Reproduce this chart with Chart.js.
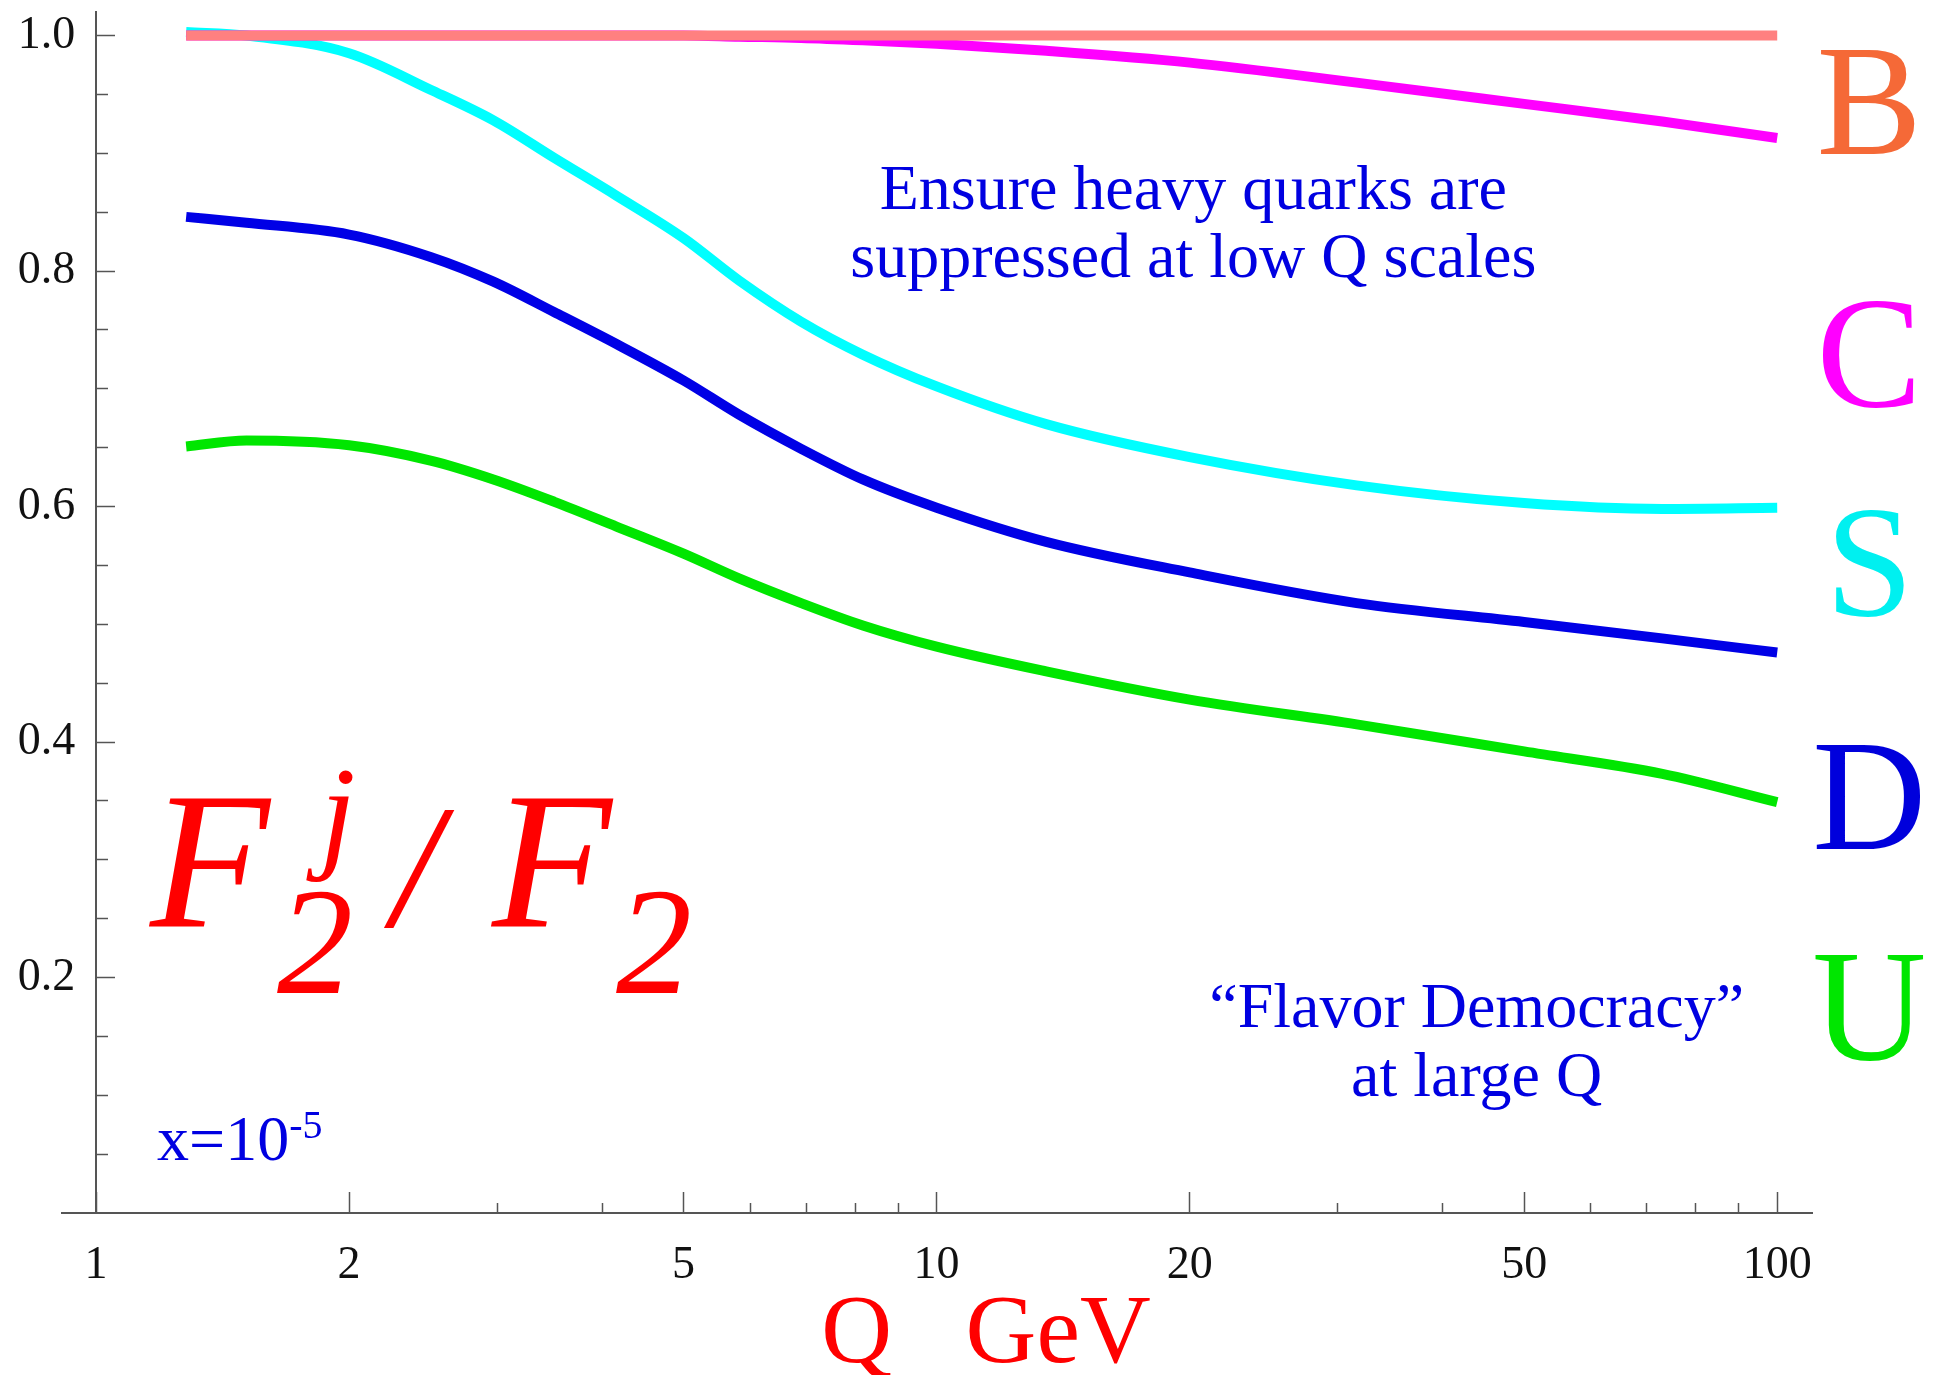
<!DOCTYPE html>
<html>
<head>
<meta charset="utf-8">
<script src="https://cdn.jsdelivr.net/npm/chart.js@4.4.1/dist/chart.umd.min.js"></script>
<style>
  html, body { margin: 0; padding: 0; background: #ffffff; }
  #wrap { width: 1935px; height: 1375px; position: relative; }
</style>
</head>
<body>
<div id="wrap"><canvas id="chart"></canvas></div>
<script>
// ---- data ----
const qValues = [1.28, 1.51, 2.0, 2.5, 2.97, 3.51, 4.16, 5.0, 5.82, 6.9, 8.17, 10, 13.5, 20, 31.6, 50, 73, 100];
const ratioB  = [1, 1, 1, 1, 1, 1, 1, 1, 1, 1, 1, 1, 1, 1, 1, 1, 1, 1];
const ratioC  = [1, 1, 1, 1, 1, 1, 1, 1, 0.999, 0.998, 0.996, 0.993, 0.987, 0.977, 0.960, 0.942, 0.927, 0.913];
const ratioS  = [1.003, 1.0, 0.985, 0.954, 0.928, 0.896, 0.864, 0.828, 0.792, 0.757, 0.729, 0.702, 0.670, 0.642, 0.618, 0.603, 0.598, 0.599];
const ratioD  = [0.846, 0.841, 0.831, 0.812, 0.791, 0.765, 0.738, 0.707, 0.678, 0.649, 0.623, 0.599, 0.570, 0.544, 0.518, 0.502, 0.488, 0.476];
const ratioU  = [0.651, 0.656, 0.652, 0.639, 0.623, 0.604, 0.583, 0.560, 0.539, 0.518, 0.499, 0.481, 0.460, 0.436, 0.415, 0.392, 0.373, 0.349];
const seriesNames = ['B', 'C', 'S', 'D', 'U'];

const xMajorTicks = [1, 2, 5, 10, 20, 50, 100];
const xMinorTicks = [3, 4, 6, 7, 8, 9, 30, 40, 60, 70, 80, 90];
const yMajorTicks = [0.2, 0.4, 0.6, 0.8, 1.0];
const yMinorTicks = [0.05, 0.1, 0.15, 0.25, 0.3, 0.35, 0.45, 0.5, 0.55, 0.65, 0.7, 0.75, 0.85, 0.9, 0.95];

const xTitle = '    Q   GeV';
const noteTop = ['Ensure heavy quarks are', 'suppressed at low Q scales'];
const noteBottom = ['\u201CFlavor Democracy\u201D', 'at large Q'];
const xNote = ['x=10', '-5'];

// ---- styles ----
const seriesColors = ['rgb(255,128,128)', 'rgb(255,0,255)', 'rgb(0,255,255)', 'rgb(0,0,230)', 'rgb(0,230,0)'];
const letterColors = ['rgb(245,105,55)', 'rgb(255,0,255)', 'rgb(0,240,240)', 'rgb(0,0,220)', 'rgb(0,230,0)'];
const axisColor = '#555555';
const serif = "'Liberation Serif', 'Times New Roman', serif";
const X_MIN = 0.911, X_MAX = 110, Y_MIN = 0, Y_MAX = 1.02;
const Y_AXIS_AT = 1;   // the y axis crosses the x axis at Q = 1

Chart.defaults.font.family = serif;

const seriesValues = [ratioB, ratioC, ratioS, ratioD, ratioU];
const datasets = seriesValues.map((vals, i) => ({
  label: seriesNames[i],
  data: qValues.map((q, k) => ({ x: q, y: vals[k] })),
  borderColor: seriesColors[i],
  backgroundColor: seriesColors[i],
  borderWidth: 10,
  pointRadius: 0,
  fill: false,
  cubicInterpolationMode: 'monotone',
  borderCapStyle: 'butt'
}));

// annotations in data coordinates (Q, ratio)
const annotationPlugin = {
  id: 'annotations',
  afterDatasetsDraw(chart) {
    const ctx = chart.ctx;
    const xs = chart.scales.x, ys = chart.scales.y;
    const px = q => xs.getPixelForValue(q);
    const py = v => ys.getPixelForValue(v);
    const text = (t, x, y, font, color, align) => {
      ctx.save();
      ctx.font = font;
      ctx.fillStyle = color;
      ctx.textAlign = align || 'left';
      ctx.textBaseline = 'alphabetic';
      ctx.fillText(t, x, y);
      ctx.restore();
    };
    const blue = 'rgb(0,0,225)';
    const red = 'rgb(255,0,0)';
    // upper note
    text(noteTop[0], px(20.2), py(0.853), '64px ' + serif, blue, 'center');
    text(noteTop[1], px(20.2), py(0.795), '64px ' + serif, blue, 'center');
    // lower note
    text(noteBottom[0], px(43.9), py(0.158), '64px ' + serif, blue, 'center');
    text(noteBottom[1], px(43.9), py(0.099), '64px ' + serif, blue, 'center');
    // x = 10^-5
    const bx = px(1.182), by = py(0.045);
    ctx.save(); ctx.font = '64px ' + serif; const w = ctx.measureText(xNote[0]).width; ctx.restore();
    text(xNote[0], bx, by, '64px ' + serif, blue, 'left');
    text(xNote[1], bx + w, by - 22, '40px ' + serif, blue, 'left');
    // F_2^j / F_2
    const fx = px(1.159), fy = py(0.2436);
    text('F', fx, fy, 'italic 196px ' + serif, red, 'left');
    text('j', fx + 170, fy - 71, 'italic 128px ' + serif, red, 'left');
    text('2', fx + 127, fy + 67, 'italic 152px ' + serif, red, 'left');
    text('/', fx + 242, fy, 'italic 176px ' + serif, red, 'left');
    text('F', fx + 342, fy, 'italic 196px ' + serif, red, 'left');
    text('2', fx + 466, fy + 67, 'italic 152px ' + serif, red, 'left');
    // right-hand letters
    const letterY = [0.899, 0.685, 0.5076, 0.309, 0.1307];
    seriesNames.forEach((n, i) => {
      text(n, px(128.7), py(letterY[i]), '158px ' + serif, letterColors[i], 'center');
    });
  }
};

const setTicks = list => scale => { scale.ticks = list.map(v => ({ value: v })); };
const noPad = s => { s.paddingTop = 0; s.paddingBottom = 0; s.paddingLeft = 0; s.paddingRight = 0; };

new Chart(document.getElementById('chart'), {
  type: 'line',
  data: { datasets },
  options: {
    responsive: true,
    maintainAspectRatio: false,
    animation: false,
    layout: { padding: { left: 62, top: 12, right: 123, bottom: 0 } },
    plugins: { legend: { display: false }, tooltip: { enabled: false } },
    scales: {
      x: {
        type: 'logarithmic', position: 'bottom', min: X_MIN, max: X_MAX, weight: 1,
        afterBuildTicks: setTicks(xMajorTicks),
        afterFit: s => { s.height = 162; noPad(s); },
        border: { display: true, color: axisColor, width: 2 },
        grid: { drawOnChartArea: false, drawTicks: true, tickLength: -21, tickColor: axisColor, tickWidth: 1.5 },
        ticks: { autoSkip: false, maxRotation: 0, padding: 46, color: '#111', font: { size: 46, family: serif },
                 callback: v => String(v) },
        title: { display: true, text: xTitle, color: 'rgb(255,0,0)', font: { size: 98, family: serif, lineHeight: 0.8 },
                 padding: { top: 0, bottom: 0 } }
      },
      xm: {
        type: 'logarithmic', position: 'bottom', min: X_MIN, max: X_MAX, weight: 0,
        afterBuildTicks: setTicks(xMinorTicks),
        afterFit: s => { s.height = 0; noPad(s); },
        border: { display: false },
        grid: { drawOnChartArea: false, drawTicks: true, tickLength: -10, tickColor: axisColor, tickWidth: 1.5 },
        ticks: { display: false }
      },
      y: {
        type: 'linear', position: { x: Y_AXIS_AT }, min: Y_MIN, max: Y_MAX,
        afterBuildTicks: setTicks(yMajorTicks),
        afterFit: s => { s.width = 0; noPad(s); },
        border: { display: true, color: axisColor, width: 2 },
        grid: { drawOnChartArea: false, drawTicks: true, tickLength: -20, tickColor: axisColor, tickWidth: 1.5 },
        ticks: { padding: 0, color: '#111', font: { size: 46, family: serif },
                 callback: v => Number(v).toFixed(1) + ' \u2009' }
      },
      ym: {
        type: 'linear', position: { x: Y_AXIS_AT }, min: Y_MIN, max: Y_MAX,
        afterBuildTicks: setTicks(yMinorTicks),
        afterFit: s => { s.width = 0; noPad(s); },
        border: { display: false },
        grid: { drawOnChartArea: false, drawTicks: true, tickLength: -12, tickColor: axisColor, tickWidth: 1.5 },
        ticks: { display: false }
      }
    }
  },
  plugins: [annotationPlugin]
});
</script>
</body>
</html>
